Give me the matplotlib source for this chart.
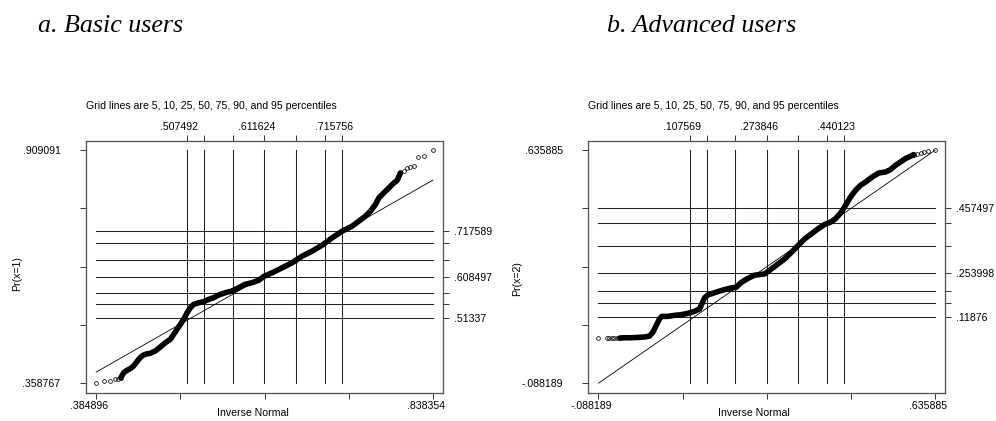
import numpy as np
import matplotlib.pyplot as plt
import matplotlib.transforms as mtransforms

plt.rcParams['font.family'] = ['Liberation Sans', 'DejaVu Sans']
plt.rcParams['font.size'] = 7.6

# ---- panel a: basic users, Pr(x=1) vs inverse normal ----
basic_x = [.384896, .39607, .40414, .40992, .41396, .41800,
           .42204, .42661, .43105, .43549, .43778, .44222, .44679, .45124, .45796,
           .46469, .47142, .47815, .48488, .48932, .49389, .49834, .50278, .50735,
           .51179, .51623, .52296, .52969, .53642, .54315, .54988, .55885, .56782,
           .57670, .58569, .59465, .60350, .61157, .62213, .63558, .64904, .66249,
           .67595, .68940, .70286, .71632, .72977, .73878, .74767, .75439, .76112,
           .76570, .77242, .77915, .78588, .79032,
           .79476, .79933, .80377, .80821, .81278, .81856, .82623, .838354]
basic_y = [.358767, .3642, .3642, .3682, .3696, .3713,
           .3838, .3894, .3932, .3996, .4050, .4154, .4232, .4272, .4295,
           .4350, .4444, .4545, .4625, .4744, .4862, .4979, .5097, .5253,
           .5371, .5450, .5488, .5512, .5568, .5607, .5670, .5725, .5765,
           .5843, .5923, .5961, .6017, .6118, .6197, .6315, .6433, .6590,
           .6708, .6850, .7022, .7180, .7298, .7416, .7534, .7652, .7810,
           .7966, .8084, .8201, .8319, .8376,
           .8555, .8612, .8673, .8697, .8713, .8942, .8956, .909091]
basic_sparse = (6, 8)  # loose circles at the low / high end
basic_xrange = [.384896, .838354]
basic_yrange = [.358767, .909091]
basic_xgrid = [.507492, .530490, .568930, .611624, .654318, .692758, .715756]
basic_ygrid = [.51337, .5461, .5711, .608497, .6489, .6903, .717589]

# ---- panel b: advanced users, Pr(x=2) vs inverse normal ----
adv_x = [-.088189, -.07033, -.06459, -.05958, -.05377, -.04818, -.04237,
         -.03226, -.01806, -.00365, .01076, .02152, .02862, .03572, .04303,
         .04797, .06088, .07530, .08950, .10391, .11832, .12908, .13403, .13984,
         .14693, .15769, .16845, .18286, .19706, .20782, .21858, .23252, .24692,
         .26954, .28396, .29816, .31257, .32698, .34118, .35559, .37000, .38420,
         .39861, .41088, .42164, .43239, .44315, .45390, .46466, .47541, .48617,
         .50058, .51478, .52919, .53994, .55070, .56145, .57221, .58297,
         .59006, .59738, .60448, .61158, .62018, .635885]
adv_y = [.05208, .05208, .05208, .05208, .05208, .05208, .05208,
         .05301, .05301, .05395, .05519, .05831, .06953, .09041, .11130,
         .11940, .11940, .12252, .12470, .12876, .13499, .14247, .15806, .17676,
         .18611, .19110, .19641, .20264, .20794, .20981, .22452, .23698, .24727,
         .25156, .26715, .28273, .29832, .31889, .33977, .36066, .37624, .39183,
         .40523, .41240, .42300, .44045, .46445, .49033, .51121, .52679, .53708,
         .55267, .56513, .56825, .57573, .58914, .59942, .61002, .61719,
         .62249, .62560, .62872, .63059, .63371, .635885]
adv_sparse = (7, 6)
adv_xrange = [-.088189, .635885]
adv_yrange = [-.088189, .635885]
adv_xgrid = [.107569, .144301, .205667, .273846, .342025, .403391, .440123]
adv_ygrid = [.11876, .1624, .1979, .253998, .3391, .4086, .457497]

grid_note = "Grid lines are 5, 10, 25, 50, 75, 90, and 95 percentiles"


def stata_fmt(v):
    s = f"{v:.6g}"
    return s.replace("0.", ".", 1) if s.lstrip("-").startswith("0.") else s


def pick_labels(vals, keep):
    return [stata_fmt(v) if i in keep else "" for i, v in enumerate(vals)]


def draw_panel(fig, rect, xs, ys, sparse, xr, yr, xgrid, ygrid, ylabel,
               xlab_x, ylab_pos):
    ax = fig.add_axes(rect)
    fc = "#222222"
    lw = 0.75

    # percentile grid
    for g in xgrid:
        ax.plot([g, g], yr, color=fc, lw=lw, zorder=1)
    for g in ygrid:
        ax.plot(xr, [g, g], color=fc, lw=lw, zorder=1)

    # reference line y = x
    ax.plot(xr, xr, color="black", lw=0.6, zorder=2)

    xs = np.asarray(xs)
    ys = np.asarray(ys)
    lo, hi = sparse
    ax.plot(xs[lo - 1:len(xs) - hi + 1], ys[lo - 1:len(ys) - hi + 1],
            color="black", lw=4.0, solid_capstyle="round",
            solid_joinstyle="round", zorder=3)
    tail_x = np.r_[xs[:lo], xs[len(xs) - hi:]]
    tail_y = np.r_[ys[:lo], ys[len(ys) - hi:]]
    ax.plot(tail_x, tail_y, "o", ms=2.7, mfc="none", mec="black", mew=0.55,
            zorder=3)

    xpad = (xr[1] - xr[0]) * 0.0303
    ypad = (yr[1] - yr[0]) * 0.041
    ax.set_xlim(xr[0] - xpad, xr[1] + xpad)
    ax.set_ylim(yr[0] - ypad, yr[1] + ypad)

    ticks_x = np.linspace(xr[0], xr[1], 5)
    ticks_y = np.linspace(yr[0], yr[1], 5)
    ax.set_xticks(ticks_x, pick_labels(ticks_x, {0, 4}))
    ax.set_yticks(ticks_y, pick_labels(ticks_y, {0, 4}))

    axt = ax.twiny()
    axt.set_xlim(ax.get_xlim())
    axt.set_xticks(xgrid, pick_labels(xgrid, {0, 3, 6}))
    axr = ax.twinx()
    axr.set_ylim(ax.get_ylim())
    axr.set_yticks(ygrid, pick_labels(ygrid, {0, 3, 6}))

    for a in (ax, axt, axr):
        for sp in a.spines.values():
            sp.set_color("#555555")
            sp.set_linewidth(0.8)
    ax.tick_params(axis="x", direction="out", length=4.3, width=0.7, pad=1.5,
                   color="#333333")
    ax.tick_params(axis="y", direction="out", length=4.3, width=0.7, pad=14,
                   color="#333333")
    axt.tick_params(axis="x", direction="out", length=4.3, width=0.7, pad=2,
                    color="#333333")
    axr.tick_params(axis="y", direction="out", length=4.3, width=0.7, pad=3.6,
                    color="#333333")

    shift_b = mtransforms.ScaledTranslation(-7 / 100, 0, fig.dpi_scale_trans)
    shift_t = mtransforms.ScaledTranslation(-8 / 100, 0, fig.dpi_scale_trans)
    for lab in ax.get_xticklabels():
        lab.set_transform(lab.get_transform() + shift_b)
    for lab in axt.get_xticklabels():
        lab.set_transform(lab.get_transform() + shift_t)

    ax.text(xlab_x, -0.0806, "Inverse Normal", transform=ax.transAxes,
            ha="center", va="center")
    ax.text(ylab_pos[0], ylab_pos[1], ylabel, transform=ax.transAxes,
            rotation=90, ha="center", va="center")
    ax.text(0, 1.139, grid_note, transform=ax.transAxes, ha="left",
            va="center")
    return ax


fig = plt.figure(figsize=(9.96, 4.21), dpi=100)

draw_panel(fig, [86 / 996, 28.3 / 421, 357 / 996, 252 / 421],
           basic_x, basic_y, basic_sparse, basic_xrange, basic_yrange,
           basic_xgrid, basic_ygrid, "Pr(x=1)", 0.468, (-0.194, 0.474))
draw_panel(fig, [588.3 / 996, 28.3 / 421, 357 / 996, 252 / 421],
           adv_x, adv_y, adv_sparse, adv_xrange, adv_yrange,
           adv_xgrid, adv_ygrid, "Pr(x=2)", 0.464, (-0.2006, 0.451))

fig.text(38.3 / 996, 1 - 31.7 / 421, "a. Basic users", family="Liberation Serif",
         style="italic", fontsize=18.7, va="baseline")
fig.text(607 / 996, 1 - 31.7 / 421, "b. Advanced users",
         family="Liberation Serif", style="italic", fontsize=18.7,
         va="baseline")

fig.savefig("out.png", dpi=100)
